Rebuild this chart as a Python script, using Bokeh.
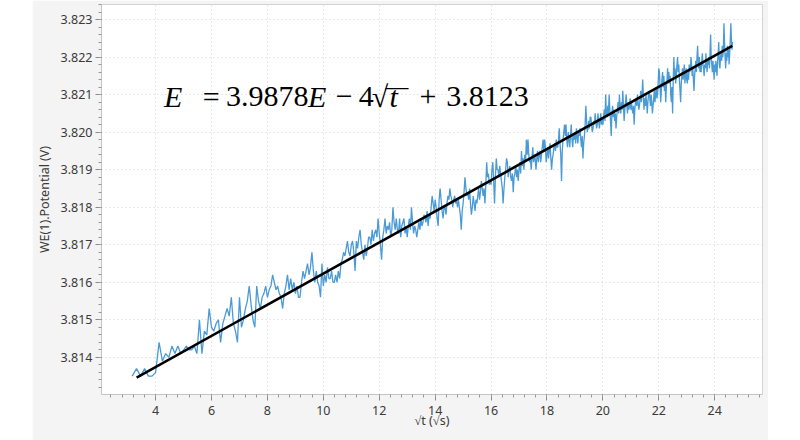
"""
Potencial WE(1) vs raiz del tiempo, con recta de ajuste lineal
"""

import numpy as np

from bokeh.plotting import figure
from bokeh.layouts import row
from bokeh.models import (ColumnDataSource, Label, Range1d, Spacer,
                          SingleIntervalTicker, NumeralTickFormatter)
from bokeh.embed import file_html
from bokeh.resources import INLINE

# --------------------------------------------------------------
# DATOS
# --------------------------------------------------------------

# muestreo cada 1 s, primer punto en t = 10 s
t_inicio = 10
paso_t = 1

# potencial medido, en decimas de mV por encima de 3.8130 V
pot_01mV = [
    5, 7, 5, 7, 5, 5, 6, 14, 9, 11,
    10, 13, 11, 13, 11, 12, 13, 12, 12, 13,
    11, 20, 11, 17, 16, 23, 18, 17, 19, 20,
    14, 19, 21, 23, 21, 26, 19, 17, 14, 26,
    18, 20, 23, 25, 29, 24, 20, 18, 29, 25,
    23, 26, 27, 29, 26, 28, 29, 32, 30, 28,
    29, 27, 26, 23, 27, 29, 32, 28, 31, 28,
    30, 27, 29, 26, 26, 30, 33, 31, 33, 35,
    32, 34, 38, 33, 30, 33, 30, 29, 26, 35,
    29, 32, 30, 34, 31, 31, 33, 30, 30, 32,
    30, 33, 31, 35, 36, 38, 37, 39, 41, 38,
    37, 40, 41, 38, 33, 41, 39, 42, 44, 40,
    38, 36, 40, 37, 39, 42, 42, 40, 44, 41,
    43, 44, 42, 47, 43, 40, 36, 42, 44, 47,
    43, 45, 44, 46, 42, 44, 50, 46, 44, 47,
    44, 43, 47, 42, 45, 46, 47, 43, 45, 42,
    45, 47, 44, 50, 46, 43, 45, 44, 42, 44,
    46, 44, 47, 45, 46, 48, 47, 46, 49, 45,
    48, 47, 50, 53, 51, 49, 52, 50, 47, 45,
    52, 55, 52, 49, 47, 50, 50, 48, 51, 53,
    52, 55, 53, 52, 50, 52, 53, 51, 52, 50,
    52, 50, 48, 44, 49, 51, 54, 58, 55, 53,
    54, 52, 55, 51, 48, 50, 53, 51, 49, 52,
    51, 53, 55, 52, 54, 57, 55, 53, 55, 51,
    56, 62, 58, 59, 56, 57, 56, 60, 62, 57,
    51, 58, 63, 60, 60, 58, 61, 59, 57, 55,
    51, 55, 58, 60, 63, 62, 58, 60, 61, 58,
    57, 59, 54, 58, 59, 61, 58, 60, 57, 60,
    62, 59, 65, 61, 63, 60, 64, 62, 68, 64,
    68, 64, 62, 63, 60, 63, 66, 62, 64, 63,
    60, 63, 65, 62, 64, 65, 62, 64, 66, 68,
    65, 68, 66, 62, 64, 66, 63, 65, 67, 63,
    60, 63, 64, 66, 67, 65, 68, 66, 66, 68,
    71, 67, 64, 57, 65, 68, 70, 72, 69, 72,
    68, 66, 70, 68, 66, 69, 72, 68, 66, 69,
    68, 70, 67, 71, 69, 67, 70, 69, 71, 68,
    66, 69, 63, 67, 69, 72, 77, 73, 70, 71,
    73, 71, 74, 74, 72, 70, 71, 73, 72, 75,
    73, 71, 72, 75, 73, 71, 73, 75, 72, 74,
    72, 74, 76, 73, 80, 75, 74, 77, 75, 80,
    76, 73, 69, 75, 77, 74, 76, 73, 75, 71,
    74, 76, 78, 75, 80, 77, 75, 78, 76, 81,
    77, 73, 76, 78, 80, 77, 75, 78, 76, 77,
    79, 76, 78, 76, 75, 77, 72, 76, 78, 79,
    77, 80, 78, 76, 77, 79, 81, 78, 80, 84,
    80, 76, 79, 77, 80, 78, 75, 78, 80, 81,
    79, 77, 80, 78, 75, 77, 79, 81, 78, 80,
    82, 79, 80, 83, 87, 86, 82, 78, 81, 84,
    86, 82, 85, 81, 83, 78, 82, 84, 87, 83,
    86, 83, 85, 80, 78, 82, 75, 84, 90, 85,
    87, 83, 85, 88, 90, 86, 88, 84, 81, 78,
    83, 85, 87, 84, 86, 88, 83, 85, 87, 84,
    83, 86, 84, 88, 86, 87, 90, 88, 85, 87,
    84, 81, 85, 87, 89, 86, 90, 93, 89, 87,
    90, 86, 88, 86, 89, 91, 88, 87, 85, 88,
    87, 91, 88, 86, 89, 88, 90, 87, 91, 96,
    90, 88, 86, 89, 87, 84, 88, 86, 89, 87,
    85, 89, 91, 94, 88, 87, 90, 91, 89, 93,
    90, 92, 99, 94, 90, 87, 91, 89, 93, 90,
    92, 88, 91, 94, 99, 95, 92, 94,
]

# recta de ajuste (extremos tal como se dibuja)
ajuste_x = [3.32, 24.63]
ajuste_y = [3.81346, 3.82230]

# --------------------------------------------------------------
# PREPARACION
# --------------------------------------------------------------

t = t_inicio + paso_t * np.arange(len(pot_01mV))
source = ColumnDataSource(dict(
    raiz_t=np.sqrt(t),
    pot=3.8130 + np.array(pot_01mV) * 1e-4,
))

# --------------------------------------------------------------
# GRAFICA
# --------------------------------------------------------------

p = figure(
    width=736,
    height=440,
    x_range=Range1d(2.064, 25.71),
    y_range=Range1d(3.81301, 3.823401),
    output_backend="svg",
    toolbar_location=None,
    min_border_left=67,
    min_border_right=6,
    min_border_top=4,
    min_border_bottom=46,
    border_fill_color="#f4f4f4",
    background_fill_color="white",
    outline_line_color="#d4d4d4",)

p.line("raiz_t", "pot", source=source, color="#4a9ad6", line_width=1.3)
p.line(ajuste_x, ajuste_y, color="black", line_width=2.6)

# ejes
xticker = SingleIntervalTicker(interval=2, num_minor_ticks=5)
yticker = SingleIntervalTicker(interval=0.001, num_minor_ticks=5)
p.xaxis.ticker = xticker
p.yaxis.ticker = yticker
p.xgrid.ticker = xticker
p.ygrid.ticker = yticker
p.yaxis.formatter = NumeralTickFormatter(format="0.000")

p.xaxis.axis_label = "√t (√s)"
p.yaxis.axis_label = "WE(1).Potential (V)"

for ax in (p.xaxis, p.yaxis):
    ax.axis_line_color = "#c4c4c4"
    ax.major_tick_line_color = "#8a8a8a"
    ax.minor_tick_line_color = "#9a9a9a"
    ax.major_tick_out = 6
    ax.major_tick_in = 0
    ax.minor_tick_out = 3
    ax.minor_tick_in = 0
    ax.major_label_text_font = "Noto Sans"
    ax.major_label_text_font_size = "12.5px"
    ax.major_label_text_color = "#3a3a3a"
    ax.axis_label_text_font = "Noto Sans"
    ax.axis_label_text_font_size = "12.5px"
    ax.axis_label_text_font_style = "normal"
    ax.axis_label_text_color = "#3a3a3a"

p.xaxis.major_label_standoff = 5
p.xaxis.axis_label_standoff = -6
p.yaxis.major_label_standoff = 3
p.yaxis.axis_label_standoff = 5

p.grid.grid_line_color = "#d2d2d2"
p.grid.grid_line_dash = "1 3"
p.grid.grid_line_width = 1

# ecuacion del ajuste
base_y = 3.82094
piezas = [
    (4.30, "E", "italic"),
    (5.684, "=", "normal"),
    (6.522, "3.9878", "normal"),
    (9.45, "E", "italic"),
    (10.44, "\u2212", "normal"),
    (11.265, "4", "normal"),
    (11.73, "\u221a", "normal"),
    (12.37, "t", "italic"),
    (13.44, "+", "normal"),
    (14.40, "3.8123", "normal"),
]
for x0, txt, estilo in piezas:
    p.add_layout(Label(
        x=x0, y=base_y, text=txt,
        text_font="Liberation Serif",
        text_font_style=estilo,
        text_font_size="30px",
        text_color="black",
        text_baseline="alphabetic",))

# barra del radical
p.segment(x0=[12.22], y0=[3.82116], x1=[13.05], y1=[3.82116],
          line_color="black", line_width=1.4)

layout = row(Spacer(width=32, height=440), p)

open("out.html", "w").write(file_html(layout, INLINE))
print("Archivo generado: out.html")
